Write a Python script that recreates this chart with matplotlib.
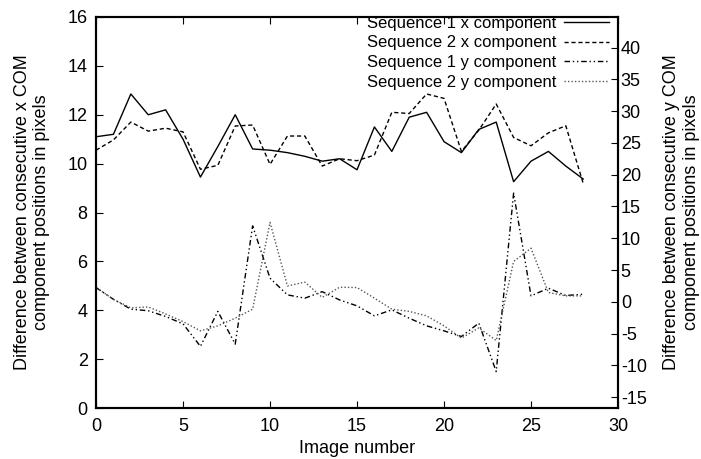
import matplotlib
matplotlib.use('Agg')
import matplotlib.pyplot as plt

plt.rcParams['font.family'] = ['Liberation Sans', 'DejaVu Sans']
plt.rcParams['axes.unicode_minus'] = False

image_number = list(range(29))

# x components (left axis)
seq1_x = [11.1, 11.2, 12.85, 12.0, 12.2, 11.0, 9.45, 10.7, 12.0, 10.6,
          10.55, 10.45, 10.3, 10.1, 10.2, 9.75, 11.5, 10.5, 11.9, 12.1,
          10.9, 10.45, 11.4, 11.7, 9.26, 10.1, 10.5, 9.9, 9.37]
seq2_x = [10.55, 10.97, 11.7, 11.33, 11.45, 11.3, 9.77, 9.93, 11.54, 11.58,
          9.97, 11.13, 11.13, 9.9, 10.2, 10.12, 10.35, 12.1, 12.05, 12.85,
          12.67, 10.5, 11.37, 12.44, 11.07, 10.73, 11.26, 11.55, 9.19]

# y components (right axis)
seq1_y = [2.25, 0.4, -1.15, -1.4, -2.3, -3.46, -7.0, -1.5, -6.65, 11.95,
          3.72, 1.1, 0.58, 1.6, 0.3, -0.63, -2.2, -1.26, -2.57, -3.77,
          -4.56, -5.45, -3.35, -10.96, 17.1, 0.94, 2.15, 1.0, 1.2]
seq2_y = [2.25, 0.4, -0.95, -0.8, -1.9, -3.1, -4.56, -3.77, -2.57, -1.15,
          12.5, 2.5, 3.1, 0.7, 2.3, 2.25, 0.58, -1.15, -1.5, -2.2,
          -3.77, -5.7, -4.1, -6.08, 6.34, 8.44, 1.47, 0.94, 0.94]

fig = plt.figure(figsize=(7.01, 4.59), dpi=100)
ax = fig.add_axes([0.137, 0.111, 0.7446, 0.852])
ax2 = ax.twinx()

l1, = ax.plot(image_number, seq1_x, color='black', lw=1.0, label='Sequence 1 x component')
l2, = ax.plot(image_number, seq2_x, color='black', lw=1.0, dashes=(3, 2),
              label='Sequence 2 x component')
l3, = ax2.plot(image_number, seq1_y, color='black', lw=1.0, dashes=(4, 2, 1, 2, 1, 2),
               label='Sequence 1 y component')
l4, = ax2.plot(image_number, seq2_y, color='#555555', lw=1.0, dashes=(1, 1.5),
               label='Sequence 2 y component')

ax.set_xlim(0, 30)
ax.set_ylim(0, 16)
ax.set_yticks(range(0, 17, 2))
ax.set_xticks(range(0, 31, 5))
ax2.set_ylim(-16.7, 44.8)
ax2.set_yticks(range(-15, 41, 5))

fs = 13
for a in (ax, ax2):
    for s in a.spines.values():
        s.set_linewidth(1.5)
ax.tick_params(axis='x', direction='in', top=True, length=5, labelsize=fs, pad=7)
ax.tick_params(axis='y', direction='in', left=True, right=False, length=5, labelsize=fs, pad=6)
ax2.tick_params(axis='y', direction='in', length=5, labelsize=fs, pad=2)

ax.set_xlabel('Image number', fontsize=fs, labelpad=4)
ax.set_ylabel('Difference between consecutive x COM\ncomponent positions in pixels',
              fontsize=fs, labelpad=12.5)
ax2.set_ylabel('Difference between consecutive y COM\ncomponent positions in pixels',
               fontsize=fs, labelpad=12, rotation=90)

ax2.legend(handles=[l1, l2, l3, l4], loc='upper right', markerfirst=False, frameon=False,
           fontsize=12.0, handlelength=2.7, handletextpad=0.5, labelspacing=0.29,
           borderaxespad=0.0, borderpad=0.2, bbox_to_anchor=(0.99, 1.012))

fig.savefig('out.png', dpi=100)
